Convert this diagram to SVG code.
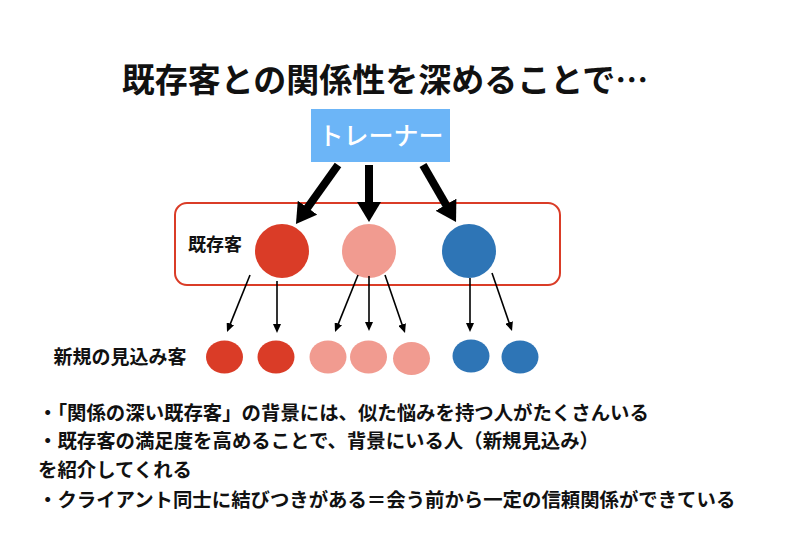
<svg xmlns="http://www.w3.org/2000/svg" width="800" height="559" viewBox="0 0 800 559">
<style>
text{font-family:"Noto Sans CJK JP","Noto Sans",sans-serif;}
.title{font-size:33px;font-weight:bold;fill:#111;}
.lbl{font-size:18px;font-weight:bold;fill:#111;}
.lbl2{font-size:19px;font-weight:bold;fill:#111;}
.body{font-size:19.4px;font-weight:bold;fill:#111;}
.thick{stroke:#000;stroke-width:8;fill:none;}
.thin{stroke:#000;stroke-width:1.6;fill:none;}
.red{fill:#da3c27;}
.pink{fill:#f19b90;}
.blue{fill:#2e75b6;}
</style>
<defs>
<marker id="bigHead" viewBox="0 0 20 24" refX="2" refY="12" markerWidth="20" markerHeight="24" markerUnits="userSpaceOnUse" orient="auto"><path d="M0,0 L20,12 L0,24 z" fill="#000"/></marker>
<marker id="smallHead" viewBox="0 0 9 8" refX="1" refY="4" markerWidth="9" markerHeight="8" markerUnits="userSpaceOnUse" orient="auto"><path d="M0,0 L9,4 L0,8 z" fill="#000"/></marker>
</defs>
<rect width="800" height="559" fill="#fff"/>
<text class="title" x="385" y="92" text-anchor="middle">既存客との関係性を深めることで…</text>
<g id="trainer">
<rect x="311" y="109" width="139" height="53" fill="#6cb5f7"/>
<text x="381" y="145" text-anchor="middle" font-size="25" font-weight="500" fill="#fff">トレーナー</text>
</g>
<g id="existing">
<rect x="175" y="203" width="385" height="82" rx="12" fill="none" stroke="#da3c27" stroke-width="2"/>
<text class="lbl" x="215" y="251" text-anchor="middle">既存客</text>
</g>
<g id="c-red"><circle class="red" cx="282" cy="251" r="27"/></g>
<g id="c-pink"><circle class="pink" cx="369" cy="251" r="27"/></g>
<g id="c-blue"><circle class="blue" cx="469" cy="251" r="27"/></g>
<g id="prospects-label"><text class="lbl2" x="120" y="364" text-anchor="middle">新規の見込み客</text></g>
<g id="p1"><ellipse class="red" cx="224.5" cy="357" rx="18.5" ry="16.5"/></g>
<g id="p2"><ellipse class="red" cx="276" cy="357" rx="18.5" ry="16.5"/></g>
<g id="p3"><ellipse class="pink" cx="328" cy="357" rx="18.5" ry="16.5"/></g>
<g id="p4"><ellipse class="pink" cx="368.5" cy="357" rx="18.5" ry="16.5"/></g>
<g id="p5"><ellipse class="pink" cx="411.5" cy="358.5" rx="18.5" ry="16.5"/></g>
<g id="p6"><ellipse class="blue" cx="471" cy="356" rx="18.5" ry="16.5"/></g>
<g id="p7"><ellipse class="blue" cx="520" cy="357" rx="18.5" ry="16.5"/></g>
<g id="connectors">
<line class="thick" x1="338" y1="165" x2="306.4" y2="209.3" marker-end="url(#bigHead)"/>
<line class="thick" x1="369" y1="165" x2="369" y2="204" marker-end="url(#bigHead)"/>
<line class="thick" x1="423" y1="165" x2="447" y2="206.4" marker-end="url(#bigHead)"/>
<line class="thin" x1="250" y1="275" x2="230" y2="324.6" marker-end="url(#smallHead)"/>
<line class="thin" x1="277" y1="281" x2="277" y2="325" marker-end="url(#smallHead)"/>
<line class="thin" x1="358" y1="275" x2="338" y2="324.6" marker-end="url(#smallHead)"/>
<line class="thin" x1="369" y1="276" x2="369" y2="323" marker-end="url(#smallHead)"/>
<line class="thin" x1="385" y1="275" x2="402.4" y2="325.4" marker-end="url(#smallHead)"/>
<line class="thin" x1="470" y1="278" x2="470" y2="324" marker-end="url(#smallHead)"/>
<line class="thin" x1="492" y1="273" x2="509.4" y2="323.4" marker-end="url(#smallHead)"/>
</g>
<g id="notes">
<text class="body" x="38" y="420">・「関係の深い既存客」の背景には、似た悩みを持つ人がたくさんいる</text>
<text class="body" x="38" y="448">・既存客の満足度を高めることで、背景にいる人（新規見込み）</text>
<text class="body" x="38" y="477">を紹介してくれる</text>
<text class="body" x="38" y="507">・クライアント同士に結びつきがある＝会う前から一定の信頼関係ができている</text>
</g>
</svg>
